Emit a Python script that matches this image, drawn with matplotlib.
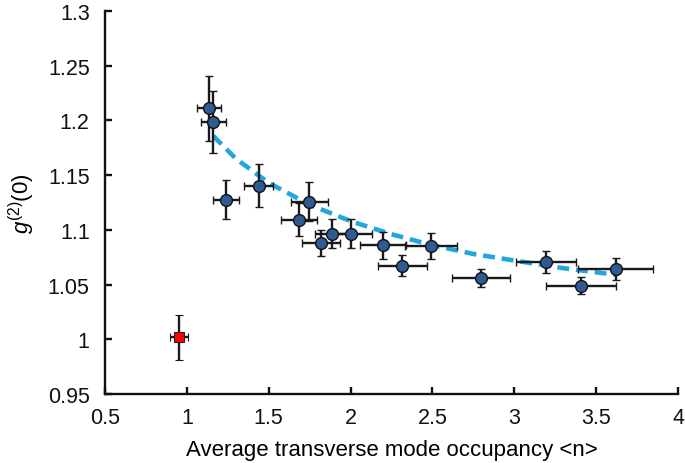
import matplotlib
matplotlib.use("Agg")
import matplotlib.pyplot as plt

plt.rcParams['font.family'] = ['Liberation Sans', 'DejaVu Sans']
plt.rcParams['mathtext.fontset'] = 'custom'
plt.rcParams['mathtext.rm'] = 'Liberation Sans'
plt.rcParams['mathtext.it'] = 'Liberation Sans:italic'

# Measured data (blue circles)
n_vals = [1.135, 1.162, 1.241, 1.439, 1.748, 1.685, 1.885, 1.821, 2.003, 2.198, 2.493, 2.316, 2.797, 3.194, 3.620, 3.406]
g2_vals = [1.211, 1.1985, 1.1275, 1.1403, 1.1257, 1.1092, 1.0964, 1.0882, 1.0964, 1.0858, 1.0855, 1.0672, 1.0562, 1.0706, 1.0642, 1.0489]
n_err = [0.073, 0.075, 0.079, 0.090, 0.112, 0.109, 0.100, 0.116, 0.126, 0.140, 0.159, 0.148, 0.175, 0.181, 0.228, 0.215]
g2_err = [0.030, 0.028, 0.018, 0.0195, 0.018, 0.015, 0.0134, 0.012, 0.0134, 0.0125, 0.012, 0.0098, 0.0084, 0.0104, 0.0098, 0.0076]

# Reference point (red square)
ref_n = [0.952]
ref_g2 = [1.002]
ref_n_err = [0.055]
ref_g2_err = [0.0206]

# Fitted curve (dashed)
fit_n = [1.16, 1.3, 1.5, 1.75, 2.0, 2.25, 2.5, 2.75, 3.0, 3.3, 3.62]
fit_g2 = [1.186, 1.165, 1.143, 1.123, 1.108, 1.096, 1.086, 1.078, 1.072, 1.065, 1.059]

x_ticks = [0.5, 1, 1.5, 2, 2.5, 3, 3.5, 4]
x_ticklabels = ['0.5', '1', '1.5', '2', '2.5', '3', '3.5', '4']
y_ticks = [0.95, 1.0, 1.05, 1.1, 1.15, 1.2, 1.25, 1.3]
y_ticklabels = ['0.95', '1', '1.05', '1.1', '1.15', '1.2', '1.25', '1.3']

fig = plt.figure(figsize=(6.85, 4.64), dpi=100)
ax = fig.add_axes([0.1533, 0.1487, 0.8365, 0.8253])

ax.plot(fit_n, fit_g2, linestyle=(0, (2.6, 1.5)), color='#23A6E0', linewidth=3.3, zorder=2)

ax.errorbar(n_vals, g2_vals, xerr=n_err, yerr=g2_err, fmt='o', color='#1A1A1A',
            ecolor='#1A1A1A', elinewidth=1.7, capsize=2.8, capthick=1.7,
            markersize=8.5, markerfacecolor='#2E5B94', markeredgecolor='#111111',
            markeredgewidth=1.0, zorder=3)

ax.errorbar(ref_n, ref_g2, xerr=ref_n_err, yerr=ref_g2_err, fmt='s', color='#1A1A1A',
            ecolor='#1A1A1A', elinewidth=1.7, capsize=2.8, capthick=1.7,
            markersize=7.5, markerfacecolor='#FF0000', markeredgecolor='#222222',
            markeredgewidth=0.8, zorder=3)

ax.set_xlim(0.5, 4)
ax.set_ylim(0.95, 1.3)
ax.set_xticks(x_ticks)
ax.set_xticklabels(x_ticklabels)
ax.set_yticks(y_ticks)
ax.set_yticklabels(y_ticklabels)

for s in ['top', 'right']:
    ax.spines[s].set_visible(False)
for s in ['left', 'bottom']:
    ax.spines[s].set_linewidth(1.7)
    ax.spines[s].set_color('#111111')

ax.tick_params(direction='in', length=5, width=1.7, labelsize=15.5, colors='#111111', pad=9)
ax.tick_params(axis='y', pad=11)

ax.set_xlabel('Average transverse mode occupancy <n>', fontsize=16, labelpad=8)
ax.set_ylabel(r'$g^{(2)}(0)$', fontsize=16, labelpad=8)

fig.savefig('out.png', dpi=100)
